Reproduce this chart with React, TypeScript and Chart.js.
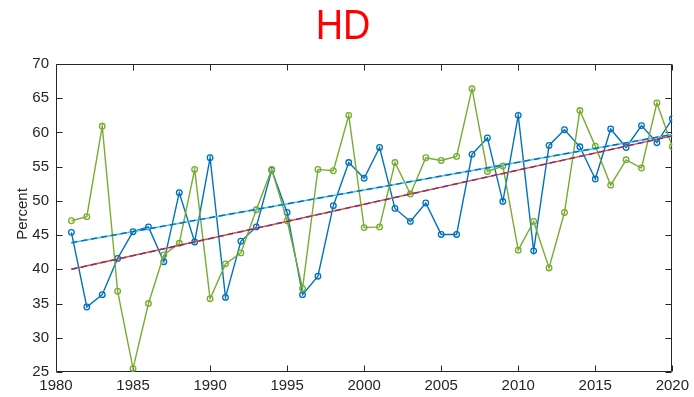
import React, { useEffect, useRef } from "react";
import { Chart, registerables } from "chart.js";

Chart.register(...registerables);

const years = [
  1981, 1982, 1983, 1984, 1985, 1986, 1987, 1988, 1989, 1990,
  1991, 1992, 1993, 1994, 1995, 1996, 1997, 1998, 1999, 2000,
  2001, 2002, 2003, 2004, 2005, 2006, 2007, 2008, 2009, 2010,
  2011, 2012, 2013, 2014, 2015, 2016, 2017, 2018, 2019, 2020,
];

const blueSeries = [
  45.4, 34.5, 36.3, 41.6, 45.5, 46.2, 41.1, 51.2, 44.0, 56.3,
  35.9, 44.1, 46.2, 54.5, 48.3, 36.3, 39.0, 49.3, 55.6, 53.3,
  57.8, 48.9, 47.0, 49.7, 45.1, 45.1, 56.8, 59.2, 49.9, 62.5,
  42.7, 58.1, 60.4, 57.9, 53.2, 60.5, 57.8, 61.0, 58.5, 62.0,
];

const greenSeries = [
  47.1, 47.7, 60.9, 36.8, 25.5, 35.0, 42.1, 43.8, 54.6, 35.7,
  40.8, 42.4, 48.7, 54.6, 47.1, 37.2, 54.6, 54.4, 62.5, 46.1,
  46.2, 55.6, 51.0, 56.3, 55.9, 56.5, 66.4, 54.3, 55.1, 42.8,
  47.0, 40.2, 48.3, 63.2, 58.0, 52.3, 56.0, 54.8, 64.3, 57.9,
];

const trendYears = [1981, 2020];
const blueTrend = [43.9, 59.7];
const greenTrend = [40.0, 59.5];

const xTicks = [1980, 1985, 1990, 1995, 2000, 2005, 2010, 2015, 2020];
const yTicks = [25, 30, 35, 40, 45, 50, 55, 60, 65, 70];

const titleText = "HD";
const yLabel = "Percent";

const FONT = "'Liberation Sans', Arial, Helvetica, sans-serif";
const AXIS = "#262626";

const pts = (xs: number[], ys: number[]) => xs.map((x, i) => ({ x, y: ys[i] }));

const boxPlugin = {
  id: "matlabBox",
  beforeDatasetsDraw(chart: any) {
    const { ctx, chartArea: a, scales } = chart;
    const L = Math.round(a.left) + 0.5;
    const R = Math.round(a.right) - 0.5;
    const T = Math.round(a.top) + 0.5;
    const B = Math.round(a.bottom) - 0.5;
    const tl = 6;
    ctx.save();
    ctx.strokeStyle = AXIS;
    ctx.lineWidth = 1;
    ctx.beginPath();
    ctx.rect(L, T, R - L, B - T);
    for (const v of xTicks) {
      const px = Math.round(scales.x.getPixelForValue(v)) + 0.5;
      ctx.moveTo(px, B);
      ctx.lineTo(px, B - tl);
      ctx.moveTo(px, T);
      ctx.lineTo(px, T + tl);
    }
    for (const v of yTicks) {
      const py = Math.round(scales.y.getPixelForValue(v)) + 0.5;
      ctx.moveTo(L, py);
      ctx.lineTo(L + tl, py);
      ctx.moveTo(R, py);
      ctx.lineTo(R - tl, py);
    }
    ctx.stroke();

    // title
    ctx.fillStyle = "#ff0000";
    ctx.font = `42px ${FONT}`;
    ctx.textAlign = "center";
    ctx.textBaseline = "alphabetic";
    ctx.save();
    ctx.translate(343, 39);
    ctx.scale(0.9, 1);
    ctx.fillText(titleText, 0, 0);
    ctx.restore();

    // y label
    ctx.fillStyle = AXIS;
    ctx.font = `15px ${FONT}`;
    ctx.save();
    ctx.translate(23, 214);
    ctx.rotate(-Math.PI / 2);
    ctx.textAlign = "center";
    ctx.textBaseline = "middle";
    ctx.fillText(yLabel, 0, 0);
    ctx.restore();

    ctx.restore();
  },
};

export default function App() {
  const ref = useRef<HTMLCanvasElement>(null);

  useEffect(() => {
    if (!ref.current) return;
    const chart = new Chart(ref.current, {
      type: "line",
      data: {
        datasets: [
          {
            data: pts(trendYears, blueTrend),
            borderColor: "#0072BD",
            borderWidth: 1.5,
            borderDash: [6, 4],
            pointRadius: 0,
            fill: false,
            order: 0,
          },
          {
            data: pts(trendYears, blueTrend),
            borderColor: "#4DBEEE",
            borderWidth: 1.5,
            pointRadius: 0,
            fill: false,
            order: 1,
          },
          {
            data: pts(trendYears, greenTrend),
            borderColor: "#7E2F8E",
            borderWidth: 1.5,
            borderDash: [6, 4],
            pointRadius: 0,
            fill: false,
            order: 0,
          },
          {
            data: pts(trendYears, greenTrend),
            borderColor: "#D95319",
            borderWidth: 1.5,
            pointRadius: 0,
            fill: false,
            order: 1,
          },
          {
            data: pts(years, greenSeries),
            borderColor: "#77AC30",
            borderWidth: 1.4,
            pointRadius: 2.8,
            pointBorderWidth: 1.3,
            pointBackgroundColor: "rgba(0,0,0,0)",
            pointBorderColor: "#77AC30",
            tension: 0,
            fill: false,
            order: 2,
          },
          {
            data: pts(years, blueSeries),
            borderColor: "#0072BD",
            borderWidth: 1.4,
            pointRadius: 2.8,
            pointBorderWidth: 1.3,
            pointBackgroundColor: "rgba(0,0,0,0)",
            pointBorderColor: "#0072BD",
            tension: 0,
            fill: false,
            order: 3,
          },
        ],
      },
      options: {
        responsive: false,
        animation: false,
        events: [],
        layout: { padding: { left: 0, right: 18, top: 64, bottom: 0 } },
        plugins: {
          legend: { display: false },
          tooltip: { enabled: false },
          title: { display: false },
        },
        scales: {
          x: {
            type: "linear",
            min: 1980,
            max: 2020,
            afterFit: (s: any) => {
              s.height = 25;
            },
            afterBuildTicks: (s: any) => {
              s.ticks = xTicks.map((v) => ({ value: v }));
            },
            ticks: {
              color: AXIS,
              font: { family: FONT, size: 15 },
              padding: 5,
              maxRotation: 0,
              autoSkip: false,
              callback: (v: any) => String(v),
            },
            grid: { display: false, drawTicks: false },
            border: { display: false },
          },
          y: {
            type: "linear",
            min: 25,
            max: 70,
            afterFit: (s: any) => {
              s.width = 56;
            },
            afterBuildTicks: (s: any) => {
              s.ticks = yTicks.map((v) => ({ value: v }));
            },
            ticks: {
              color: AXIS,
              font: { family: FONT, size: 15 },
              padding: 7,
              autoSkip: false,
              callback: (v: any) => String(v),
            },
            grid: { display: false, drawTicks: false },
            border: { display: false },
          },
        },
      },
      plugins: [boxPlugin],
    });
    return () => chart.destroy();
  }, []);

  return (
    <div style={{ position: "fixed", left: 0, top: 0, width: 694, height: 397, background: "#fff" }}>
      <canvas ref={ref} width={694} height={397} style={{ width: 694, height: 397, display: "block" }} />
    </div>
  );
}
